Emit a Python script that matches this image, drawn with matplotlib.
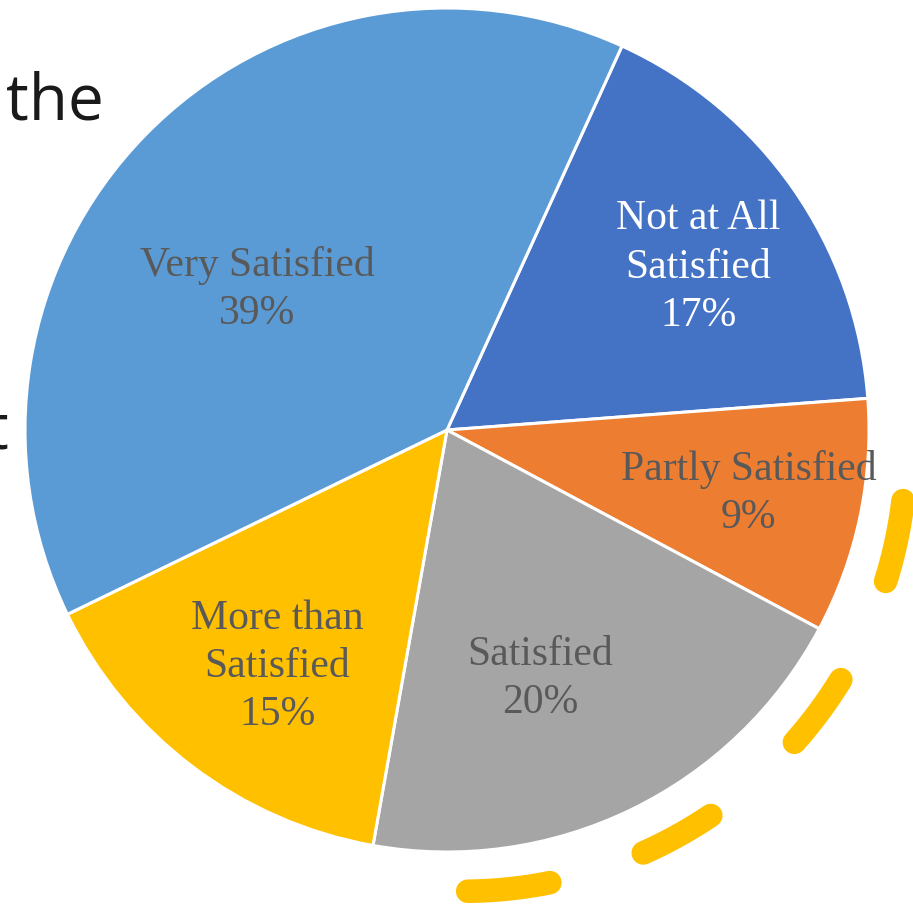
import numpy as np
import matplotlib.pyplot as plt

# Satisfaction survey shares, listed clockwise from the top-right wedge
labels = ['Not at All\nSatisfied', 'Partly Satisfied', 'Satisfied', 'More than\nSatisfied', 'Very Satisfied']
shares = [17, 9, 20, 15, 39]
colors = ['#4472C4', '#ED7D31', '#A5A5A5', '#FFC000', '#5B9BD5']
text_colors = ['white', '#595959', '#595959', '#595959', '#595959']

# label placement: fraction of radius and angular nudge (degrees)
label_dist = [0.71, 0.73, 0.63, 0.69, 0.56]
label_nudge = [-2.0, 0.0, -5.4, 1.5, 7.8]

W, H = 913, 908
cx, cy, R = 447, 430, 422  # pie centre and radius in pixels

fig = plt.figure(figsize=(W / 100, H / 100), dpi=100)
ax = fig.add_axes([0, 0, 1, 1])

wedges, _ = ax.pie(shares, startangle=65.5, counterclock=False, colors=colors,
                   wedgeprops=dict(edgecolor='white', linewidth=2.2))

for w, lab, val, tc, d, nud in zip(wedges, labels, shares, text_colors, label_dist, label_nudge):
    mid = np.deg2rad((w.theta1 + w.theta2) / 2 + nud)
    ax.text(d * np.cos(mid), d * np.sin(mid), f'{lab}\n{val}%',
            ha='center', va='center', family='Liberation Serif',
            fontsize=30, color=tc, linespacing=1.33)

# dashed highlight arc around the lower-right wedges
arc_c = (0.038, -0.043)
arc_r = 1.05
dash_spans = [(-6.8, -17.5), (-31.5, -41.6), (-56.0, -66.0), (-78.7, -89.4)]
for a0, a1 in dash_spans:
    t = np.deg2rad(np.linspace(a0, a1, 40))
    ax.plot(arc_c[0] + arc_r * np.cos(t), arc_c[1] + arc_r * np.sin(t),
            color='#FFC000', lw=17, solid_capstyle='round', clip_on=False)

ax.set_xlim(-cx / R, (W - cx) / R)
ax.set_ylim(-(H - cy) / R, cy / R)
ax.set_aspect('auto')
ax.axis('off')

# slide text partly hidden behind the chart
fig.text(6 / W, 1 - 120 / H, 'the', family='Open Sans', fontsize=46,
         color='#1a1a1a', va='baseline', ha='left')
fig.text(-14 / W, 1 - 450 / H, 't', family='Open Sans', fontsize=46,
         color='#1a1a1a', va='baseline', ha='left')

fig.savefig('out.png', dpi=100)
